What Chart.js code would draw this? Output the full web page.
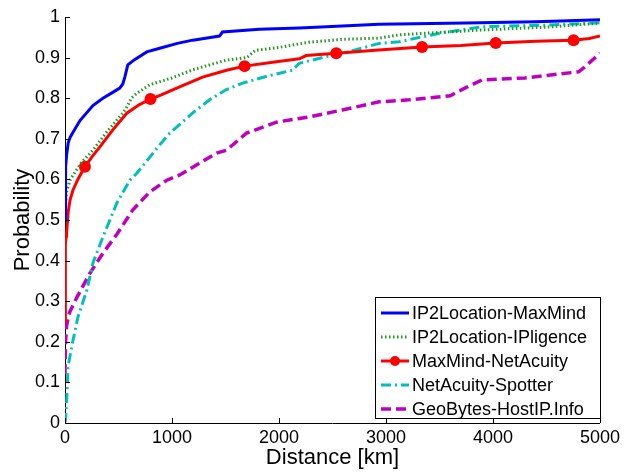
<!DOCTYPE html>
<html>
<head>
<meta charset="utf-8">
<script src="https://cdn.jsdelivr.net/npm/chart.js@4/dist/chart.umd.min.js"></script>
<style>
  html, body { margin: 0; padding: 0; background: #fff; }
  #wrap { width: 624px; height: 473px; }
</style>
</head>
<body>
<div id="wrap"><canvas id="cdfChart" width="624" height="473"></canvas></div>
<script>
// distance (km) / cumulative probability
const seriesNames = ["IP2Location-MaxMind", "IP2Location-IPligence", "MaxMind-NetAcuity", "NetAcuity-Spotter", "GeoBytes-HostIP.Info"];

const blueX = [0, 3, 8, 15, 30, 47, 75, 140, 261, 354, 450, 512, 540, 559, 587, 650, 764, 885, 1050, 1193, 1300, 1444, 1472, 1817, 2190, 2442, 2936, 3746, 4400, 5000];
const blueY = [0.5, 0.58, 0.63, 0.66, 0.69, 0.703, 0.716, 0.745, 0.782, 0.80, 0.815, 0.825, 0.835, 0.852, 0.882, 0.895, 0.914, 0.923, 0.935, 0.943, 0.947, 0.953, 0.963, 0.970, 0.973, 0.976, 0.982, 0.985, 0.988, 0.993];

const greenX = [0, 5, 15, 47, 75, 150, 261, 400, 540, 577, 620, 671, 792, 1000, 1193, 1510, 1700, 1780, 2000, 2283, 2600, 2936, 3122, 3500, 3896, 4500, 5000];
const greenY = [0.5, 0.54, 0.57, 0.598, 0.61, 0.64, 0.672, 0.72, 0.763, 0.778, 0.80, 0.812, 0.833, 0.85, 0.87, 0.894, 0.90, 0.918, 0.925, 0.938, 0.945, 0.948, 0.956, 0.962, 0.968, 0.975, 0.985];

const redX = [0, 2, 5, 10, 15, 30, 47, 75, 120, 186, 250, 326, 447, 577, 700, 799, 900, 1044, 1286, 1510, 1678, 1976, 2190, 2255, 2535, 2900, 3337, 3700, 4026, 4400, 4753, 4900, 5000];
const redY = [0.25, 0.40, 0.44, 0.46, 0.468, 0.52, 0.549, 0.574, 0.60, 0.631, 0.655, 0.68, 0.722, 0.763, 0.785, 0.798, 0.808, 0.825, 0.852, 0.869, 0.879, 0.89, 0.897, 0.905, 0.911, 0.918, 0.926, 0.93, 0.936, 0.94, 0.943, 0.947, 0.953];
const redMarkers = [186, 799, 1678, 2535, 3337, 4026, 4753];

const cyanX = [0, 5, 15, 28, 50, 75, 121, 205, 261, 354, 485, 606, 671, 885, 979, 1200, 1351, 1500, 1659, 1900, 2125, 2190, 2498, 2591, 2936, 3122, 3500, 3896, 4500, 5000];
const cyanY = [0, 0.01, 0.05, 0.138, 0.17, 0.204, 0.261, 0.328, 0.394, 0.458, 0.542, 0.598, 0.615, 0.685, 0.714, 0.765, 0.796, 0.82, 0.837, 0.855, 0.869, 0.886, 0.906, 0.91, 0.935, 0.939, 0.96, 0.976, 0.98, 0.986];

const magentaX = [0, 5, 15, 30, 47, 112, 233, 354, 485, 634, 792, 951, 1072, 1258, 1417, 1510, 1696, 1976, 2283, 2591, 2936, 3215, 3600, 3746, 3896, 4300, 4800, 4850, 5000];
const magentaY = [0.12, 0.2, 0.24, 0.26, 0.275, 0.31, 0.369, 0.418, 0.465, 0.525, 0.569, 0.598, 0.611, 0.64, 0.665, 0.672, 0.714, 0.741, 0.754, 0.771, 0.791, 0.796, 0.806, 0.826, 0.845, 0.85, 0.865, 0.875, 0.911];

const xTicks = [0, 1000, 2000, 3000, 4000, 5000];
const yTicks = [0, 0.1, 0.2, 0.3, 0.4, 0.5, 0.6, 0.7, 0.8, 0.9, 1];

function toPoints(xs, ys) {
  return xs.map((x, i) => ({ x: x, y: ys[i] }));
}

const FONT = "Liberation Sans, Arial, sans-serif";

// MATLAB style: ticks pointing into the plot
const inwardTicks = {
  id: "inwardTicks",
  afterDatasetsDraw(chart) {
    const ctx = chart.ctx;
    const xs = chart.scales.x, ys = chart.scales.y;
    const a = chart.chartArea;
    ctx.save();
    ctx.strokeStyle = "#000";
    ctx.lineWidth = 1;
    ctx.beginPath();
    xTicks.forEach(v => {
      const px = Math.round(xs.getPixelForValue(v)) + 0.5;
      ctx.moveTo(px, a.bottom);
      ctx.lineTo(px, a.bottom - 5);
    });
    yTicks.forEach(v => {
      const py = Math.round(ys.getPixelForValue(v)) + 0.5;
      ctx.moveTo(a.left, py);
      ctx.lineTo(a.left + 5, py);
    });
    ctx.stroke();
    ctx.restore();
  }
};

// boxed legend in the lower right corner
const boxLegend = {
  id: "boxLegend",
  afterDraw(chart) {
    const ctx = chart.ctx;
    const left = 375, top = 297, w = 225, h = 121;
    ctx.save();
    ctx.fillStyle = "#fff";
    ctx.fillRect(left, top, w, h);
    ctx.strokeStyle = "#000";
    ctx.lineWidth = 1;
    ctx.strokeRect(left + 0.5, top + 0.5, w, h);
    ctx.font = "18px " + FONT;
    ctx.textBaseline = "middle";
    chart.data.datasets.forEach((ds, i) => {
      const y = 313 + i * 24;
      ctx.strokeStyle = ds.borderColor;
      ctx.lineWidth = ds.borderWidth;
      ctx.setLineDash(ds.borderDash || []);
      ctx.beginPath();
      ctx.moveTo(381, y);
      ctx.lineTo(409, y);
      ctx.stroke();
      ctx.setLineDash([]);
      if (i === 2) {
        ctx.fillStyle = ds.borderColor;
        ctx.beginPath();
        ctx.arc(395, y, 5, 0, Math.PI * 2);
        ctx.fill();
      }
      ctx.fillStyle = "#000";
      ctx.fillText(ds.label, 412, y + 1);
    });
    ctx.restore();
  }
};

const canvas = document.getElementById("cdfChart");

new Chart(canvas, {
  type: "line",
  data: {
    datasets: [
      {
        label: seriesNames[0],
        data: toPoints(blueX, blueY),
        borderColor: "#0000ff",
        borderWidth: 3,
        pointRadius: 0
      },
      {
        label: seriesNames[1],
        data: toPoints(greenX, greenY),
        borderColor: "#1f9a1f",
        borderWidth: 3,
        borderDash: [1.5, 2.5],
        pointRadius: 0
      },
      {
        label: seriesNames[2],
        data: toPoints(redX, redY),
        borderColor: "#ff0000",
        backgroundColor: "#ff0000",
        borderWidth: 3,
        pointRadius: ctx => redMarkers.includes(redX[ctx.dataIndex]) ? 6 : 0,
        pointBorderWidth: 0
      },
      {
        label: seriesNames[3],
        data: toPoints(cyanX, cyanY),
        borderColor: "#00bfbf",
        borderWidth: 3,
        borderDash: [10, 4, 2, 4],
        pointRadius: 0
      },
      {
        label: seriesNames[4],
        data: toPoints(magentaX, magentaY),
        borderColor: "#bf00bf",
        borderWidth: 3.5,
        borderDash: [10, 5],
        pointRadius: 0
      }
    ]
  },
  options: {
    responsive: false,
    animation: false,
    layout: { padding: { top: 17, right: 20, left: 0, bottom: 0 } },
    plugins: {
      legend: { display: false },
      tooltip: { enabled: false }
    },
    elements: { line: { tension: 0 } },
    scales: {
      x: {
        type: "linear",
        min: 0,
        max: 5000,
        afterBuildTicks: s => { s.ticks = xTicks.map(v => ({ value: v })); },
        afterFit: s => { s.height = 50; },
        grid: { drawOnChartArea: false, drawTicks: false },
        border: { display: true, color: "#000", width: 1 },
        ticks: { color: "#000", padding: 4, font: { family: FONT, size: 18 }, maxRotation: 0, callback: v => String(v) },
        title: { display: true, text: "Distance [km]", color: "#000", font: { family: FONT, size: 22 }, padding: { top: 0, bottom: 2 } }
      },
      y: {
        min: 0,
        max: 1,
        afterBuildTicks: s => { s.ticks = yTicks.map(v => ({ value: v })); },
        afterFit: s => { s.width = 65; },
        grid: { drawOnChartArea: false, drawTicks: false },
        border: { display: true, color: "#000", width: 1 },
        ticks: { color: "#000", padding: 5, font: { family: FONT, size: 18 }, callback: v => String(Math.round(v * 10) / 10) },
        title: { display: true, text: "Probability", color: "#000", font: { family: FONT, size: 22 }, padding: { top: 10, bottom: 0 } }
      }
    }
  },
  plugins: [inwardTicks, boxLegend]
});
</script>
</body>
</html>
